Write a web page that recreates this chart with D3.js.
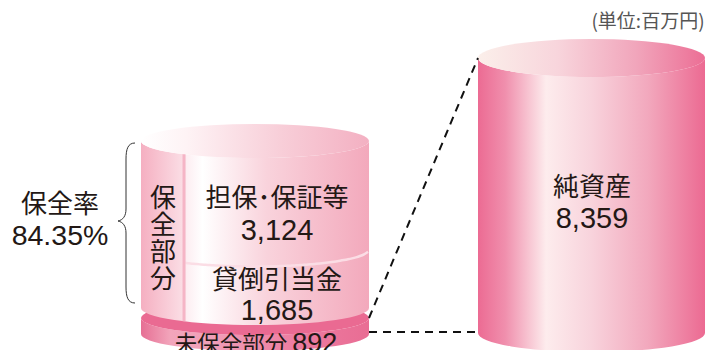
<!DOCTYPE html>
<html>
<head>
<meta charset="utf-8">
<script src="https://cdn.jsdelivr.net/npm/d3@7/dist/d3.min.js"></script>
<style>
html,body{margin:0;padding:0;background:#fff;overflow:hidden}
svg{display:block}
text{font-family:"Noto Sans CJK JP","Noto Sans",sans-serif;fill:#231815;text-anchor:middle}
.num{font-family:"Liberation Sans",Arial,sans-serif}
</style>
</head>
<body>
<div id="chart"></div>
<script>
// Balance figures, in millions of yen
const coveredCategories = ["担保･保証等", "貸倒引当金"];
const coveredValues = [3124, 1685];
const uncoveredCategory = "未保全部分";
const uncoveredValue = 892;
const netAssetsCategory = "純資産";
const netAssetsValue = 8359;
const coverageLabel = "保全率";
const coverageRate = "84.35%";
const coveredGroupLabel = "保全部分";
const unitLabel = "(単位:百万円)";

const width = 720, height = 350;
const fmt = d3.format(",");
const svg = d3.select("#chart").append("svg").attr("width", width).attr("height", height);
const defs = svg.append("defs");

function gradient(id, stops, x1, x2) {
  const g = defs.append("linearGradient").attr("id", id)
    .attr("gradientUnits", "userSpaceOnUse")
    .attr("x1", x1).attr("x2", x2).attr("y1", 0).attr("y2", 0);
  stops.forEach(([o, c]) => g.append("stop").attr("offset", o).attr("stop-color", c));
}

// Column footprints and the value-to-height scales
const leftX = d3.scaleLinear().domain([0, 1]).range([141, 369]);
const rightX = d3.scaleLinear().domain([0, 1]).range([478, 705]);
const stackY = d3.scaleLinear().domain([0, d3.sum(coveredValues)]).range([308, 141]);
const netY = d3.scaleLinear().domain([0, netAssetsValue]).range([333, 58]);
const discThickness = d3.scaleLinear().domain([0, uncoveredValue]).range([0, 16]);
const leftRy = 17, rightRy = 19;

gradient("stackSide", [[0, "#f5afc1"], [0.19, "#fbdfe6"], [0.2, "#fdeef2"], [0.27, "#ffffff"], [0.55, "#f9d3dc"], [1, "#f3a9bc"]], 141, 369);
gradient("stackTop", [[0, "#ffffff"], [0.2, "#fef3f5"], [0.6, "#f8cfd9"], [1, "#f3b0c2"]], 141, 369);
gradient("netSide", [[0, "#ec6b93"], [0.12, "#f08fad"], [0.3, "#fdeced"], [0.5, "#f8d3dc"], [0.75, "#f2a8bd"], [1, "#ec6a92"]], 478, 705);
gradient("netTop", [[0, "#fbefea"], [0.35, "#f8d5dc"], [0.7, "#f1a5bb"], [1, "#ec6e95"]], 478, 705);
gradient("discSide", [[0, "#e66f94"], [0.13, "#f2a5bb"], [0.3, "#f0a0b8"], [0.7, "#ec7ba0"], [1, "#e96d94"]], 141, 369);

// Cylinder body: top rim runs across the front arc, down the side and back along the base
function sidePath(x0, x1, yTop, yBottom, ry) {
  const rx = (x1 - x0) / 2;
  return `M${x0},${yTop}A${rx},${ry} 0 0 0 ${x1},${yTop}V${yBottom}A${rx},${ry} 0 0 1 ${x0},${yBottom}Z`;
}
function ellipse(x0, x1, cy, ry, fill) {
  svg.append("ellipse").attr("cx", (x0 + x1) / 2).attr("cy", cy)
    .attr("rx", (x1 - x0) / 2).attr("ry", ry).attr("fill", fill);
}

// Uncovered disc under the stack
const discTop = 318;
const discBottom = discTop + discThickness(uncoveredValue);
svg.append("path").attr("d", sidePath(leftX(0), leftX(1), discTop, discBottom, leftRy)).attr("fill", "url(#discSide)");
ellipse(leftX(0), leftX(1), discTop, leftRy, "#ea6a92");

// Covered stack
svg.append("path").attr("d", sidePath(leftX(0), leftX(1), stackY.range()[1], stackY(0), leftRy)).attr("fill", "url(#stackSide)");
ellipse(leftX(0), leftX(1), stackY.range()[1], leftRy, "url(#stackTop)");

// Divider between the two covered items, following the front arc
const cx = (leftX(0) + leftX(1)) / 2, rx = (leftX(1) - leftX(0)) / 2;
const dividerX = 184;
const arcY = (x, cy) => cy + leftRy * Math.sqrt(1 - ((x - cx) / rx) ** 2);
const boundary = stackY(coveredValues[1]);
const arc = d3.line().curve(d3.curveBasis);
svg.append("path")
  .attr("d", arc(d3.range(dividerX, leftX(1) + 0.01, 4).map(x => [x, arcY(x, boundary)])))
  .attr("fill", "none").attr("stroke", "#fbdde5").attr("stroke-width", 2.5);

// Vertical rule that sets off the group column
svg.append("line")
  .attr("x1", dividerX).attr("x2", dividerX)
  .attr("y1", arcY(dividerX, stackY.range()[1]))
  .attr("y2", arcY(dividerX, stackY(0)))
  .attr("stroke", "#f5b5c6").attr("stroke-width", 3);

// Net assets cylinder
svg.append("path").attr("d", sidePath(rightX(0), rightX(1), netY(netAssetsValue), netY(0), rightRy)).attr("fill", "url(#netSide)");
ellipse(rightX(0), rightX(1), netY(netAssetsValue), rightRy, "url(#netTop)");

// Dashed leaders joining the two columns
const leaders = [
  [[leftX(1), discTop], [rightX(0), netY(netAssetsValue)]],
  [[leftX(1), discBottom - 2], [rightX(0), discBottom - 2]]
];
svg.selectAll(".leader").data(leaders).join("line").attr("class", "leader")
  .attr("x1", d => d[0][0]).attr("y1", d => d[0][1])
  .attr("x2", d => d[1][0]).attr("y2", d => d[1][1])
  .attr("stroke", "#111").attr("stroke-width", 2).attr("stroke-dasharray", "8,6");

// Brace around the covered portion
const braceTop = 143, braceBottom = 303, braceMid = 221;
svg.append("path")
  .attr("d", `M135,${braceTop}C128,${braceTop} 126,${braceTop + 6} 126,${braceTop + 16}V${braceMid - 12}C126,${braceMid - 5} 123,${braceMid - 1} 118,${braceMid}C123,${braceMid + 1} 126,${braceMid + 5} 126,${braceMid + 12}V${braceBottom - 16}C126,${braceBottom - 6} 128,${braceBottom} 135,${braceBottom}`)
  .attr("fill", "none").attr("stroke", "#333").attr("stroke-width", 1);

// Labels
function label(str, x, y, size, cls) {
  return svg.append("text").attr("x", x).attr("y", y).attr("font-size", size)
    .attr("class", cls || null).text(str);
}
label(coverageLabel, 60, 213, 26);
label(coverageRate, 60, 245, 28.5, "num");
label(coveredGroupLabel, 163, 238, 26)
  .style("writing-mode", "vertical-rl").style("letter-spacing", "1px");
label(coveredCategories[0], 277, 207, 26);
label(fmt(coveredValues[0]), 277, 240, 29, "num");
label(coveredCategories[1], 277, 289, 26);
label(fmt(coveredValues[1]), 277, 320, 29, "num");
svg.append("text").attr("x", 256).attr("y", 352).attr("font-size", 22.5)
  .call(t => t.append("tspan").text(uncoveredCategory + " "))
  .call(t => t.append("tspan").attr("class", "num").attr("font-size", 27).text(uncoveredValue));
label(netAssetsCategory, 592, 196, 26);
label(fmt(netAssetsValue), 592, 228, 29, "num");
label(unitLabel, 648, 28, 19).style("fill", "#555");
</script>
</body>
</html>
